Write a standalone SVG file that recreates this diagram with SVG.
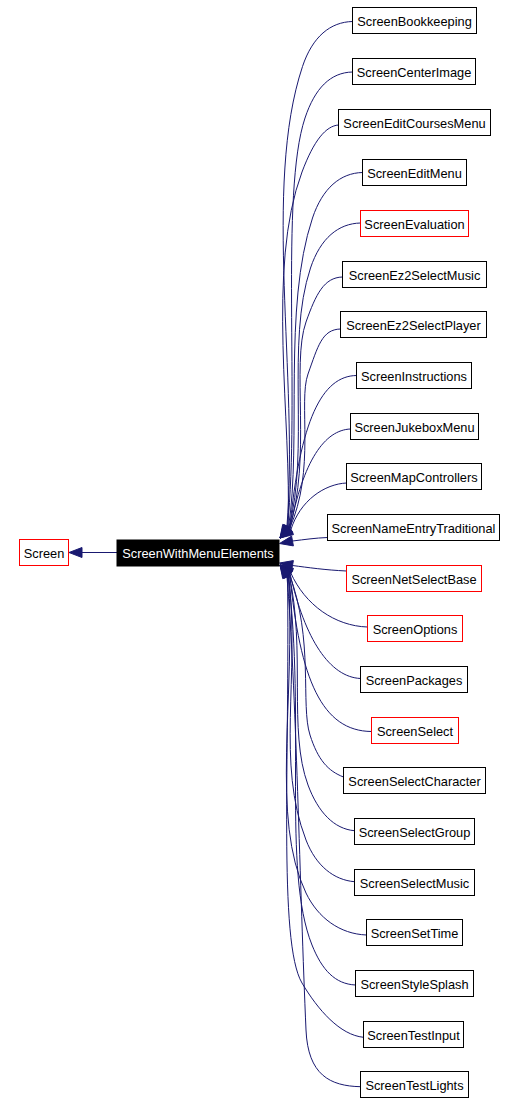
<svg xmlns="http://www.w3.org/2000/svg" width="518" height="1105" viewBox="0 0 518 1105">
<style>
.node rect{fill:#fff;stroke:#000;stroke-width:1}
.node.red rect{stroke:#f00}
.node.dark rect{fill:#000;stroke:#000}
text{font-family:"Liberation Sans",Arial,sans-serif;font-size:12.8px;text-anchor:middle;fill:#000}
.node.dark text{fill:#fff}
#edges path{fill:none;stroke:#191970;stroke-width:1}
#edges polygon{fill:#191970;stroke:#191970;stroke-width:1}
</style>
<rect x="0" y="0" width="518" height="1105" fill="#fff"/>
<g id="edges">
<path d="M117,552.5 L82,552.5"/><polygon points="69,552.5 82,547.5 82,557.5"/>
<path d="M352.5,21.5 C330.5,22 312.5,36.5 302.5,66.5 C262.5,186.5 298.9,377 286.9,527"/><polygon points="280,538 291.1,529.7 282.7,524.4"/>
<path d="M352.5,72 C330.5,72.5 315,88 305,118 C280,193 300,400 287.5,527.4"/><polygon points="280,538 291.6,530.3 283.4,524.5"/>
<path d="M338.5,125 C326,126 314,140 302,172 C266,268 292,420 288,527.8"/><polygon points="280,538 291.9,530.9 284.1,524.7"/>
<path d="M362.5,172.5 C340.5,173 322.5,188 312.5,218 C282.5,308 302,440 288.4,528"/><polygon points="280,538 292.2,531.2 284.6,524.8"/>
<path d="M360.5,223 C338.5,223.5 320.5,238 310.5,268 C285.5,343 310,450 288.7,528.3"/><polygon points="280,538 292.4,531.7 285,525"/>
<path d="M342.5,277 C324,277.5 316,294 306,322 C291,364 312,460 289,528.7"/><polygon points="280,538 292.6,532.2 285.4,525.2"/>
<path d="M340.5,329 C322,329.5 318,346 308,374 C298,402 316,470 289.3,529"/><polygon points="280,538 292.8,532.6 285.8,525.4"/>
<path d="M356.5,375.5 C322,376 300,420 289.7,529.3"/><polygon points="280,538 293,533 286.3,525.6"/>
<path d="M350.5,429 C325,430 303,460 290,529.6"/><polygon points="280,538 293.2,533.4 286.8,525.8"/>
<path d="M346.5,483 C325,484 300,500 290.6,530.5"/><polygon points="280,538 293.5,534.6 287.7,526.4"/>
<path d="M327.5,537.5 C315,538 305,539.5 292.5,541"/><polygon points="279.5,543.5 293.4,545.9 291.6,536.1"/>
<path d="M346.5,571 C325,570 308,567.5 292.5,565.5"/><polygon points="279.5,563 291.6,570.4 293.4,560.6"/>
<path d="M367.5,627 C335,626 305,605 290.6,572.5"/><polygon points="280,565 293.5,568.4 287.7,576.6"/>
<path d="M360.5,678.5 C330,677 305,640 290,573.4"/><polygon points="280,565 293.2,569.6 286.8,577.2"/>
<path d="M371.5,731.5 C322,731 300,680 289.7,573.7"/><polygon points="280,565 293,570 286.3,577.4"/>
<path d="M343.5,777 C328,771 318,760 310,735 C300.4,705 314,640 289.3,574"/><polygon points="280,565 292.8,570.4 285.8,577.6"/>
<path d="M354.5,830.7 C334,829 318,812 308,785 C288,731 306,650 289,574.3"/><polygon points="280,565 292.6,570.8 285.4,577.8"/>
<path d="M354.5,881.7 C334,880 316,866 306,840 C276,762 300,680 288.7,574.7"/><polygon points="280,565 292.4,571.3 285,578"/>
<path d="M366.5,935 C340,934 318,918 306,893 C270,818 296,700 288.4,575"/><polygon points="280,565 292.2,571.8 284.6,578.2"/>
<path d="M355.5,985 C335,984 322,970 312,945 C282,870 306,720 288,575.2"/><polygon points="280,565 291.9,572.1 284.1,578.3"/>
<path d="M363.5,1037.3 C340,1035 318,1010 302,983 C278,942.5 290,760 287.5,575.6"/><polygon points="280,565 291.6,572.7 283.4,578.5"/>
<path d="M360.5,1086.7 C330,1086 308,1075 306,1030 C300,895 296,680 286.9,576"/><polygon points="280,565 291.1,573.3 282.7,578.6"/>
</g>
<g id="n-Screen" class="node red"><rect x="19.5" y="539.5" width="49" height="26"/><text x="44" y="558">Screen</text></g>
<g id="n-ScreenWithMenuElements" class="node dark"><rect x="117" y="540" width="162" height="26"/><text x="198" y="558">ScreenWithMenuElements</text></g>
<g id="n-ScreenBookkeeping" class="node"><rect x="352.5" y="7.5" width="124" height="26"/><text x="414.5" y="26">ScreenBookkeeping</text></g>
<g id="n-ScreenCenterImage" class="node"><rect x="352.5" y="58.5" width="123" height="26"/><text x="414" y="77">ScreenCenterImage</text></g>
<g id="n-ScreenEditCoursesMenu" class="node"><rect x="338.5" y="109.5" width="152" height="26"/><text x="414.5" y="128">ScreenEditCoursesMenu</text></g>
<g id="n-ScreenEditMenu" class="node"><rect x="362.5" y="159.5" width="104" height="26"/><text x="414.5" y="178">ScreenEditMenu</text></g>
<g id="n-ScreenEvaluation" class="node red"><rect x="360.5" y="210.5" width="108" height="26"/><text x="414.5" y="229">ScreenEvaluation</text></g>
<g id="n-ScreenEz2SelectMusic" class="node"><rect x="342.5" y="261.5" width="144" height="26"/><text x="414.5" y="280">ScreenEz2SelectMusic</text></g>
<g id="n-ScreenEz2SelectPlayer" class="node"><rect x="340.5" y="311.5" width="146" height="26"/><text x="413.5" y="330">ScreenEz2SelectPlayer</text></g>
<g id="n-ScreenInstructions" class="node"><rect x="356.5" y="362.5" width="115" height="26"/><text x="414" y="381">ScreenInstructions</text></g>
<g id="n-ScreenJukeboxMenu" class="node"><rect x="350.5" y="413.5" width="128" height="26"/><text x="414.5" y="432">ScreenJukeboxMenu</text></g>
<g id="n-ScreenMapControllers" class="node"><rect x="346.5" y="463.5" width="135" height="26"/><text x="414" y="482">ScreenMapControllers</text></g>
<g id="n-ScreenNameEntryTraditional" class="node"><rect x="327.5" y="514.5" width="172" height="26"/><text x="413.5" y="533">ScreenNameEntryTraditional</text></g>
<g id="n-ScreenNetSelectBase" class="node red"><rect x="346.5" y="565.5" width="135" height="26"/><text x="414" y="584">ScreenNetSelectBase</text></g>
<g id="n-ScreenOptions" class="node red"><rect x="367.5" y="615.5" width="95" height="26"/><text x="415" y="634">ScreenOptions</text></g>
<g id="n-ScreenPackages" class="node"><rect x="360.5" y="666.5" width="107" height="26"/><text x="414" y="685">ScreenPackages</text></g>
<g id="n-ScreenSelect" class="node red"><rect x="371.5" y="717.5" width="87" height="26"/><text x="415" y="736">ScreenSelect</text></g>
<g id="n-ScreenSelectCharacter" class="node"><rect x="343.5" y="767.5" width="142" height="26"/><text x="414.5" y="786">ScreenSelectCharacter</text></g>
<g id="n-ScreenSelectGroup" class="node"><rect x="354.5" y="818.5" width="120" height="26"/><text x="414.5" y="837">ScreenSelectGroup</text></g>
<g id="n-ScreenSelectMusic" class="node"><rect x="354.5" y="869.5" width="120" height="26"/><text x="414.5" y="888">ScreenSelectMusic</text></g>
<g id="n-ScreenSetTime" class="node"><rect x="366.5" y="919.5" width="96" height="26"/><text x="414.5" y="938">ScreenSetTime</text></g>
<g id="n-ScreenStyleSplash" class="node"><rect x="355.5" y="970.5" width="118" height="26"/><text x="414.5" y="989">ScreenStyleSplash</text></g>
<g id="n-ScreenTestInput" class="node"><rect x="363.5" y="1021.5" width="100" height="26"/><text x="413.5" y="1040">ScreenTestInput</text></g>
<g id="n-ScreenTestLights" class="node"><rect x="360.5" y="1071.5" width="108" height="26"/><text x="414.5" y="1090">ScreenTestLights</text></g>
</svg>
